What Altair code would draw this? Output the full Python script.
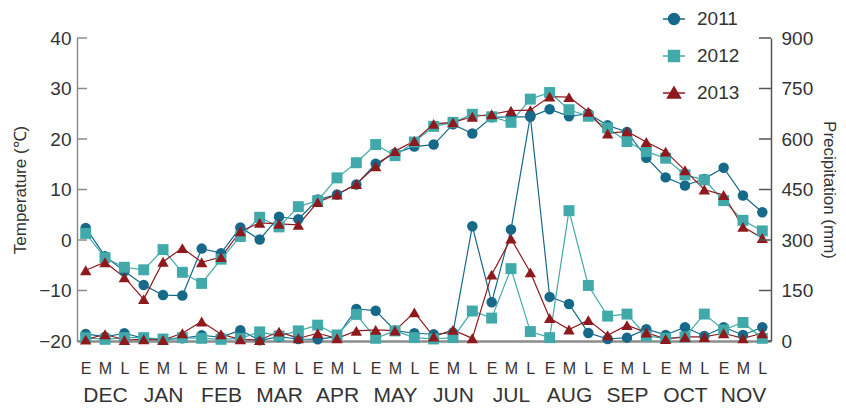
import altair as alt
import pandas as pd

months = ["DEC", "JAN", "FEB", "MAR", "APR", "MAY", "JUN", "JUL", "AUG", "SEP", "OCT", "NOV"]
parts = ["E", "M", "L"]
dekads = [f"{m}-{p}" for m in months for p in parts]
years = ["2011", "2012", "2013"]
colors = ["#17698a", "#41a9aa", "#8e1a1e"]

temp_2011 = [2.4, -3.2, -6.2, -8.9, -10.9, -11.0, -1.7, -2.6, 2.5, 0.1, 4.6, 4.1,
             8.0, 9.0, 11.0, 15.1, 17.2, 18.5, 18.9, 22.9, 21.1, 24.3, 24.4, 24.4,
             25.9, 24.5, 25.0, 22.7, 21.4, 16.3, 12.4, 10.8, 12.1, 14.3, 8.8, 5.5]
temp_2012 = [1.3, -3.5, -5.4, -5.9, -1.9, -6.4, -8.6, -3.8, 0.7, 4.5, 2.6, 6.6,
             7.8, 12.3, 15.3, 18.9, 16.7, 19.4, 22.5, 23.3, 24.9, 24.4, 23.3, 27.9,
             29.2, 25.8, 24.5, 22.2, 19.5, 17.5, 16.2, 12.9, 11.9, 7.8, 3.9, 1.8]
temp_2013 = [-6.0, -4.4, -7.4, -11.7, -4.3, -1.6, -4.4, -3.4, 1.7, 3.4, 3.2, 3.0,
             7.5, 9.0, 11.1, 14.6, 17.6, 19.6, 23.0, 23.3, 24.4, 24.9, 25.6, 25.7,
             28.4, 28.3, 25.4, 21.1, 21.5, 19.4, 17.5, 13.8, 10.0, 8.9, 2.6, 0.4]

prec_2011 = [21, 12, 23, 8, 4, 8, 17, 11, 32, 2, 12, 6,
             5, 13, 95, 90, 31, 23, 20, 25, 341, 115, 331, 668,
             131, 110, 24, 6, 10, 35, 18, 41, 15, 41, 18, 41]
prec_2012 = [10, 5, 10, 10, 6, 10, 8, 5, 8, 27, 15, 30,
             47, 18, 79, 8, 30, 10, 6, 10, 89, 68, 215, 28,
             10, 387, 165, 74, 80, 15, 8, 12, 80, 33, 55, 8]
prec_2013 = [4, 20, 3, 5, 3, 23, 58, 20, 5, 3, 28, 8,
             23, 8, 30, 33, 31, 85, 13, 33, 8, 197, 304, 204,
             68, 34, 62, 17, 47, 25, 6, 12, 12, 23, 8, 23]

temp_ticks = [-20, -10, 0, 10, 20, 30, 40]
prec_ticks = [0, 150, 300, 450, 600, 750, 900]

rows = []
for y, t, p in zip(years, [temp_2011, temp_2012, temp_2013], [prec_2011, prec_2012, prec_2013]):
    for d, tv, pv in zip(dekads, t, p):
        rows.append({"dekad": d, "year": y, "temp": tv, "prec": pv})
df = pd.DataFrame(rows)
df_tt = pd.DataFrame({"t": temp_ticks})
df_pt = pd.DataFrame({"p": prec_ticks})
df_years = pd.DataFrame({"year": years})

W, H = 694, 303
FONT = "Liberation Sans"
TXT = "#333333"

xscale = alt.Scale(domain=dekads, padding=0.45)
x_main = alt.X("dekad:N", scale=xscale, sort=dekads, title=None,
               axis=alt.Axis(labelExpr="split(datum.value, '-')[1]", labelAngle=0,
                             labelFontSize=16, labelPadding=19, ticks=False,
                             domainColor="#8c8c8c", domainWidth=2.5, labelColor=TXT,
                             labelOverlap=False, orient="bottom"))
x_noaxis = alt.X("dekad:N", scale=xscale, sort=dekads, axis=None)

tscale = alt.Scale(domain=[-20, 40], nice=False, zero=False)
taxis = alt.Axis(title="Temperature (℃)", values=temp_ticks, ticks=False, domainColor="#8c8c8c",
                 domainWidth=1.5, labelFontSize=19, labelColor=TXT, labelPadding=6,
                 titleFontSize=17, titleFontWeight="normal", titleColor=TXT, titlePadding=9,
                 orient="left")
pscale = alt.Scale(domain=[0, 900], nice=False)
paxis = alt.Axis(title="Precipitation (mm)", values=prec_ticks, ticks=False, domainColor="#555555",
                 domainWidth=1.5, labelFontSize=19, labelColor=TXT, labelPadding=10,
                 titleFontSize=17, titleFontWeight="normal", titleColor=TXT, titlePadding=7,
                 orient="right")

cscale = alt.Scale(domain=years, range=colors)
shscale = alt.Scale(domain=years, range=["circle", "square", "triangle-up"])
szscale = alt.Scale(domain=years, range=[110, 130, 120])

color_enc = alt.Color("year:N", scale=cscale, legend=None)
shape_enc = alt.Shape("year:N", scale=shscale, legend=None)
size_enc = alt.Size("year:N", scale=szscale, legend=None)

# temperature layer
t_ticks = alt.Chart(df_tt).mark_rule(color="#8c8c8c", strokeWidth=1.5).encode(
    y=alt.Y("t:Q", scale=tscale, axis=taxis), x=alt.value(0), x2=alt.value(10))
t_line = alt.Chart(df).mark_line(strokeWidth=1.2).encode(
    x=x_main, y=alt.Y("temp:Q", scale=tscale, axis=taxis), color=color_enc)
t_pts = alt.Chart(df).mark_point(filled=True, opacity=1).encode(
    x=x_main, y=alt.Y("temp:Q", scale=tscale, axis=taxis), color=color_enc,
    shape=shape_enc, size=size_enc)
temp_layer = alt.layer(t_ticks, t_line, t_pts)

# precipitation layer
p_ticks = alt.Chart(df_pt).mark_rule(color="#555555", strokeWidth=1.5).encode(
    y=alt.Y("p:Q", scale=pscale, axis=paxis), x=alt.value(W - 12), x2=alt.value(W))
p_line = alt.Chart(df).mark_line(strokeWidth=1.2).encode(
    x=x_noaxis, y=alt.Y("prec:Q", scale=pscale, axis=paxis), color=color_enc)
p_pts = alt.Chart(df).mark_point(filled=True, opacity=1).encode(
    x=x_noaxis, y=alt.Y("prec:Q", scale=pscale, axis=paxis), color=color_enc,
    shape=shape_enc, size=size_enc)
prec_layer = alt.layer(p_ticks, p_line, p_pts)

# month axis layer (second row of x labels)
month_layer = alt.Chart(df).mark_point(opacity=0).encode(
    x=alt.X("dekad:N", scale=xscale, sort=dekads, title=None,
            axis=alt.Axis(labelExpr="indexof(datum.value, '-M') >= 0 ? split(datum.value, '-')[0] : ''",
                          labelAngle=0, labelFontSize=21, labelPadding=43, ticks=False,
                          domain=False, labelColor=TXT, labelOverlap=False, orient="bottom")))

# legend layer
leg_paths = [
    "M-1,0H1M-0.5,0A0.5,0.5,0,1,0,0.5,0A0.5,0.5,0,1,0,-0.5,0Z",
    "M-1,0H1M-0.5,-0.5H0.5V0.5H-0.5Z",
    "M-1,0H1M0,-0.56L0.6,0.46L-0.6,0.46Z",
]
leg = alt.Legend(title=None, orient="none", legendX=585, legendY=-31, symbolSize=484,
                 symbolStrokeWidth=1.4, labelFontSize=19, labelColor=TXT, rowPadding=15,
                 labelOffset=11, padding=0)
legend_layer = alt.Chart(df_years).transform_filter("false").mark_point(
    filled=True, opacity=1, strokeWidth=1.4).encode(
    fill=alt.Fill("year:N", scale=alt.Scale(domain=years, range=colors), legend=leg),
    stroke=alt.Stroke("year:N", scale=alt.Scale(domain=years, range=colors), legend=leg),
    shape=alt.Shape("year:N", scale=alt.Scale(domain=years, range=leg_paths), legend=leg),
)

chart = alt.layer(temp_layer, prec_layer, month_layer, legend_layer).resolve_scale(
    y="independent", x="independent", shape="independent", color="independent",
    size="independent", fill="independent", stroke="independent"
).properties(
    width=W, height=H,
    autosize=alt.AutoSizeParams(type="none"),
    padding={"left": 69, "top": 30, "right": 67, "bottom": 65},
).configure_view(stroke=None).configure_axis(
    grid=False, labelFont=FONT, titleFont=FONT
).configure_legend(labelFont=FONT)

chart.save("out.html", embed_options={"renderer": "svg", "actions": False})
